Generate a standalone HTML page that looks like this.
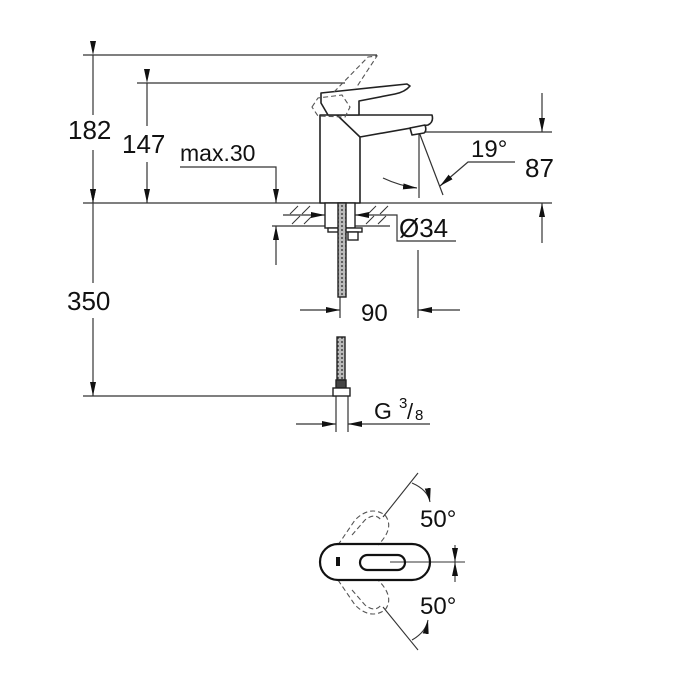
<!DOCTYPE html>
<html><head><style>
html,body{margin:0;padding:0;background:#fff;}
svg{display:block;}
text{font-family:"Liberation Sans",sans-serif;fill:#111;}
</style></head><body>
<svg width="700" height="700" viewBox="0 0 700 700" xmlns="http://www.w3.org/2000/svg">
<defs>
<marker id="a" viewBox="0 0 14 6" refX="14" refY="3" markerWidth="14" markerHeight="6" markerUnits="userSpaceOnUse" orient="auto"><path d="M0,0 L14,3 L0,6 Z" fill="#111"/></marker>
<pattern id="h" width="4" height="4" patternUnits="userSpaceOnUse"><rect width="4" height="4" fill="#bbb"/><circle cx="2" cy="2" r="1" fill="#444"/></pattern>
</defs>
<g stroke="#333" stroke-width="1.2" fill="none">
<line x1="83" y1="55" x2="377" y2="55"/>
<line x1="137" y1="83" x2="345" y2="83"/>
<line x1="83" y1="203" x2="552" y2="203"/>
<line x1="418" y1="132" x2="552" y2="132"/>
<line x1="83" y1="396" x2="335" y2="396"/>
<line x1="93" y1="55" x2="93" y2="115" marker-start="url(#a)"/>
<line x1="93" y1="150" x2="93" y2="203" marker-end="url(#a)"/>
<line x1="93" y1="203" x2="93" y2="283" marker-start="url(#a)"/>
<line x1="93" y1="318" x2="93" y2="396" marker-end="url(#a)"/>
<line x1="147" y1="83" x2="147" y2="126" marker-start="url(#a)"/>
<line x1="147" y1="162" x2="147" y2="203" marker-end="url(#a)"/>
<polyline points="180,167 276,167 276,203" marker-end="url(#a)"/>
<line x1="276" y1="265" x2="276" y2="226" marker-end="url(#a)"/>
<line x1="272" y1="226" x2="390" y2="226"/>
<line x1="542" y1="93" x2="542" y2="132" marker-end="url(#a)"/>
<line x1="542" y1="243" x2="542" y2="203" marker-end="url(#a)"/>
<line x1="419" y1="132" x2="419" y2="198"/>
<line x1="419" y1="132" x2="443" y2="195"/>
<polyline points="515,162 468,162 440,186" marker-end="url(#a)"/>
<path d="M383,178 Q400,186 417,188" marker-end="url(#a)"/>
<g stroke-width="1">
<line x1="290" y1="214" x2="298" y2="206"/><line x1="302" y1="214" x2="310" y2="206"/><line x1="368" y1="214" x2="376" y2="206"/><line x1="380" y1="214" x2="388" y2="206"/>
<line x1="292" y1="224" x2="300" y2="216"/><line x1="304" y1="224" x2="312" y2="216"/><line x1="366" y1="224" x2="374" y2="216"/><line x1="378" y1="224" x2="386" y2="216"/>
</g>
<line x1="283" y1="215" x2="325" y2="215" marker-end="url(#a)"/>
<line x1="375" y1="215" x2="355" y2="215" marker-end="url(#a)"/>
<polyline points="375,215 397,215 397,241 456,241"/>
<line x1="300" y1="310" x2="340" y2="310" marker-end="url(#a)"/>
<line x1="460" y1="310" x2="418" y2="310" marker-end="url(#a)"/>
<line x1="340" y1="297" x2="340" y2="318"/>
<line x1="418" y1="250" x2="418" y2="318"/>
<line x1="296" y1="424" x2="336" y2="424" marker-end="url(#a)"/>
<line x1="390" y1="424" x2="348" y2="424" marker-end="url(#a)"/>
<line x1="390" y1="424" x2="430" y2="424"/>
<line x1="336" y1="396" x2="336" y2="432"/>
<line x1="348" y1="396" x2="348" y2="432"/>
</g>
<g stroke="#222" stroke-width="1.6" fill="#fff" stroke-linejoin="round">
<path d="M320,203 L320,115 L432,115 Q434,122 428,125 L360,137 L360,203 Z"/>
<line x1="337" y1="115" x2="360" y2="137"/>
<path d="M410,128 L425,125 Q427,131 424,133 L412,135 Z"/>
<path d="M321,103 L321,93 L340,91 L407,84 L410,86 Q405,92 395,94 L359,101 L359,115 L328,115 Z"/>
</g>
<g stroke="#555" stroke-width="1.1" fill="none" stroke-dasharray="5,3">
<path d="M312,107 L318,98 L342,95 L350,107 L345,117 L318,116 Z"/>
<path d="M334,92 L368,57 L377,56 L356,88"/>
</g>
<g stroke="#222" stroke-width="1.4">
<rect x="325" y="203" width="30" height="25" fill="#fff"/>
<rect x="328" y="228" width="34" height="4" fill="#fff"/>
<rect x="348" y="232" width="10" height="8" fill="#fff"/>
<rect x="338" y="203" width="8" height="94" fill="url(#h)"/>
<rect x="337" y="337" width="8" height="43" fill="url(#h)"/>
<rect x="336" y="380" width="10" height="8" fill="#444"/>
<rect x="333" y="388" width="17" height="8" fill="#fff"/>
</g>
<g stroke="#333" stroke-width="1.1" fill="none">
<line x1="390" y1="562" x2="465" y2="562"/>
<line x1="383" y1="517" x2="418" y2="473"/>
<line x1="383" y1="607" x2="418" y2="650"/>
<path d="M412,483 Q428,490 430,502" marker-end="url(#a)"/>
<path d="M412,640 Q426,632 428,620" marker-end="url(#a)"/>
<line x1="455" y1="545" x2="455" y2="562" marker-end="url(#a)"/>
<line x1="455" y1="582" x2="455" y2="562" marker-end="url(#a)"/>
</g>
<g stroke="#555" stroke-width="1.1" fill="none" stroke-dasharray="5,3">
<path d="M338,545 L355,520 Q370,505 385,515 Q395,528 378,545"/>
<path d="M352,535 L365,520 Q375,512 381,520"/>
<path d="M338,580 L355,605 Q370,620 385,610 Q395,597 378,580"/>
<path d="M352,590 L365,605 Q375,613 381,605"/>
</g>
<g stroke="#111" stroke-width="2.2" fill="none">
<rect x="320" y="544" width="110" height="36" rx="18"/>
<rect x="360" y="555" width="45" height="15" rx="7.5"/>
</g>
<rect x="336" y="557" width="4" height="9" fill="#111"/>
<text x="68" y="139" font-size="26">182</text>
<text x="122" y="153" font-size="26">147</text>
<text x="180" y="161" font-size="23">max.30</text>
<text x="67" y="310" font-size="26">350</text>
<text x="471" y="157" font-size="24">19°</text>
<text x="525" y="177" font-size="26">87</text>
<text x="399" y="237" font-size="26">Ø34</text>
<text x="361" y="321" font-size="24">90</text>
<text x="374" y="419" font-size="23">G</text>
<text x="399" y="408" font-size="15">3</text>
<text x="407" y="419" font-size="22">/</text>
<text x="415" y="420" font-size="15">8</text>
<text x="420" y="527" font-size="24">50°</text>
<text x="420" y="614" font-size="24">50°</text>
</svg>
</body></html>
